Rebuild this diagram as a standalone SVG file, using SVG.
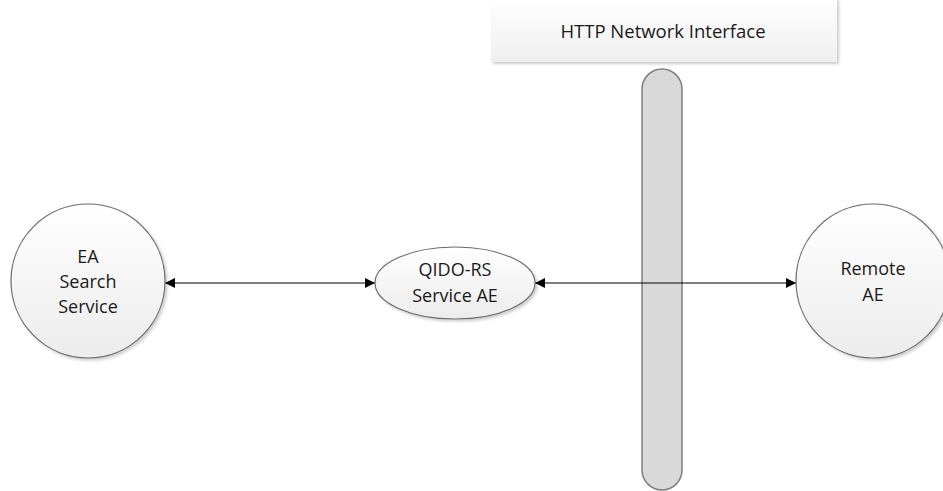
<svg xmlns="http://www.w3.org/2000/svg" width="943" height="491" viewBox="0 0 943 491">
<style>
.node{fill:url(#g);stroke:#6b6b6b;stroke-width:1.2}
.t{font-family:"Open Sans","Liberation Sans",sans-serif;font-size:18px;fill:#1a1a1a;text-anchor:middle}
.c{stroke:#000;stroke-width:1.2;fill:none;marker-start:url(#a);marker-end:url(#a)}
</style>
<defs>
<linearGradient id="g" x1="0" y1="0" x2="0" y2="1"><stop offset="0" stop-color="#ffffff"/><stop offset="1" stop-color="#ececec"/></linearGradient>
<linearGradient id="hg" x1="0" y1="0" x2="0" y2="1"><stop offset="0" stop-color="#ffffff"/><stop offset="1" stop-color="#efefef"/></linearGradient>
<marker id="a" viewBox="0 0 10 10" refX="10" refY="5" markerWidth="10" markerHeight="10" markerUnits="userSpaceOnUse" orient="auto-start-reverse"><path d="M0,0 L10,5 L0,10 z" fill="#000"/></marker>
<filter id="sh" x="-10%" y="-10%" width="130%" height="130%"><feDropShadow dx="2" dy="2" stdDeviation="1.5" flood-color="#000" flood-opacity="0.2"/></filter>
</defs>
<rect width="943" height="491" fill="#fff"/>
<g id="header">
<rect x="491" y="-2" width="346" height="64" fill="url(#hg)" filter="url(#sh)"/>
<text class="t" x="663" y="38" style="font-size:18.5px">HTTP Network Interface</text>
</g>
<g id="pipe">
<rect x="642" y="69" width="40" height="421" rx="20" ry="20" fill="#d9d9d9" stroke="#7f7f7f" stroke-width="1.5"/>
</g>
<g id="connectors">
<line class="c" x1="165" y1="283" x2="375" y2="283"/>
<line class="c" x1="535" y1="283" x2="796" y2="283"/>
</g>
<g id="ea">
<circle class="node" cx="88" cy="281" r="77" filter="url(#sh)"/>
<text class="t" x="88" y="263">EA</text>
<text class="t" x="88" y="288">Search</text>
<text class="t" x="88" y="313">Service</text>
</g>
<g id="qido">
<ellipse class="node" cx="455" cy="283" rx="80" ry="36" filter="url(#sh)"/>
<text class="t" x="455" y="276">QIDO-RS</text>
<text class="t" x="455" y="302">Service AE</text>
</g>
<g id="remote">
<circle class="node" cx="873" cy="281" r="77" filter="url(#sh)"/>
<text class="t" x="873" y="275">Remote</text>
<text class="t" x="873" y="301">AE</text>
</g>
</svg>
